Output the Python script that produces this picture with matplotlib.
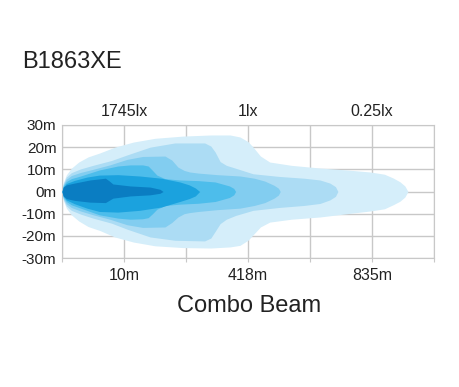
import matplotlib
matplotlib.use('Agg')
import matplotlib.pyplot as plt

plt.rcParams['font.family'] = ['Liberation Sans', 'DejaVu Sans']

# beam layers, outermost (lowest lux) first: x in grid units, half widths in metres
l1_x = [0, 0.02, 0.07, 0.15, 0.27, 0.42, 0.61, 0.85, 1.15, 1.5, 1.95, 2.4, 2.71, 2.87, 3.0, 3.08, 3.2, 3.35, 3.7, 4.16, 4.6, 4.97, 5.2, 5.34, 5.45, 5.53, 5.58]
l1_top = [0, 4, 7.5, 10.5, 13.3, 15.6, 17.4, 20, 22.3, 24, 25, 25.5, 25.5, 24.6, 22.5, 20.1, 16, 13.3, 11.8, 10.6, 9.7, 8.8, 7.8, 6.1, 4.4, 2.5, 0]
l1_bot = [0, -4, -7.5, -10.5, -13.3, -15.8, -17.6, -20.5, -22.8, -24.5, -25.3, -25.5, -25, -24.3, -22, -19.6, -16, -13.8, -12.5, -11.5, -10, -8.8, -7.8, -6, -4.4, -2.5, 0]

l2_x = [0, 0.02, 0.07, 0.15, 0.3, 0.5, 0.8, 1.05, 1.42, 1.82, 2.3, 2.4, 2.47, 2.55, 2.65, 2.8, 3.08, 3.5, 3.9, 4.16, 4.32, 4.41, 4.45]
l2_top = [0, 3.5, 6.5, 8.5, 10.2, 11.8, 14, 16.5, 20, 21.9, 21.9, 20.5, 17.8, 13.5, 11.8, 10.5, 8, 6.8, 6, 5.2, 3.8, 2.2, 0]
l2_bot = [0, -3.5, -6.5, -8.5, -10.2, -12, -14.3, -17, -20.5, -22, -22.3, -21, -18, -14.5, -12.5, -10.8, -8.5, -7.2, -6.3, -5.4, -3.8, -2.2, 0]

l3_x = [0, 0.02, 0.07, 0.15, 0.3, 0.5, 0.77, 1.05, 1.3, 1.66, 1.77, 1.87, 1.97, 2.06, 2.2, 2.5, 2.87, 3.1, 3.27, 3.42, 3.49, 3.52]
l3_top = [0, 3, 5.5, 7.2, 8.6, 10, 12, 14.5, 15.8, 16, 14.2, 11, 9.5, 8.8, 8.3, 7.6, 7, 6, 4.7, 2.8, 1.5, 0]
l3_bot = [0, -3, -5.5, -7.2, -8.8, -10.5, -12.5, -15, -16.2, -16, -14, -11.5, -10, -9.5, -9, -8.2, -7.5, -6.3, -5, -3, -1.6, 0]

l4_x = [0, 0.02, 0.07, 0.15, 0.3, 0.6, 0.9, 1.1, 1.3, 1.39, 1.46, 1.53, 1.66, 1.9, 2.2, 2.47, 2.7, 2.77, 2.8]
l4_top = [0, 2.5, 4.5, 5.8, 7, 9.7, 11.5, 12, 12, 11.5, 9.5, 7.4, 5.8, 5.2, 4.9, 4.3, 2.5, 1.4, 0]
l4_bot = [0, -2.5, -4.5, -6, -7.5, -10.5, -12, -12.5, -12.3, -11.8, -10, -8, -6.3, -5.7, -5.3, -4.5, -2.7, -1.5, 0]

l5_x = [0, 0.02, 0.07, 0.2, 0.4, 0.6, 0.9, 1.25, 1.6, 1.9, 2.05, 2.15, 2.22]
l5_top = [0, 2, 3.6, 5, 6.5, 7.4, 7.6, 7, 6, 4.3, 3, 1.6, 0]
l5_bot = [0, -2, -3.8, -5.5, -7.5, -9, -9.3, -8.5, -7, -4.5, -3.2, -2, 0]

l6_x = [0, 0.02, 0.07, 0.2, 0.45, 0.7, 0.76, 0.82, 1.1, 1.42, 1.58, 1.63]
l6_top = [0, 2, 3, 3.8, 5.2, 6, 4.8, 3.4, 2.5, 2, 1, 0]
l6_bot = [0, -2, -3.2, -4, -4.8, -5, -4, -3, -2, -1.5, -0.8, 0]

layer_colors = ['#d5eefa', '#acdcf4', '#82cdf0', '#4dbdeb', '#1ba2de', '#0a7dc2']

y_ticks = [30, 20, 10, 0, -10, -20, -30]
dist_labels = ['10m', '418m', '835m']
lux_labels = ['1745lx', '1lx', '0.25lx']
label_pos = [1, 3, 5]

fig = plt.figure(figsize=(4.6, 3.87), dpi=100)
ax = fig.add_axes([62/460, 1-258/387, 372/460, 133/387])

layers = [(l1_x, l1_top, l1_bot), (l2_x, l2_top, l2_bot), (l3_x, l3_top, l3_bot),
          (l4_x, l4_top, l4_bot), (l5_x, l5_top, l5_bot), (l6_x, l6_top, l6_bot)]
for i, (xs, top, bot) in enumerate(layers):
    ax.fill_between(xs, bot, top, color=layer_colors[i], lw=0, zorder=2 + i)

grid_c = '#c8c8c8'
ax.set_xlim(0, 6)
ax.set_ylim(-30, 30)
ax.set_xticks(range(7))
ax.set_xticklabels(['', dist_labels[0], '', dist_labels[1], '', dist_labels[2], ''])
ax.set_yticks(y_ticks)
ax.set_yticklabels([f'{v}m' for v in y_ticks])
ax.grid(True, color=grid_c, lw=1)
ax.set_axisbelow(True)
for s in ax.spines.values():
    s.set_color(grid_c)
ax.tick_params(axis='x', length=3, color=grid_c, labelsize=11.5, labelcolor='#222222', pad=4)
ax.tick_params(axis='y', length=0, labelsize=11, labelcolor='#222222', pad=4)

top_ax = ax.secondary_xaxis('top')
top_ax.set_xticks(label_pos)
top_ax.set_xticklabels(lux_labels)
top_ax.tick_params(length=0, labelsize=11.5, labelcolor='#222222', pad=4)
top_ax.spines['top'].set_visible(False)

fig.text(22/460, 1-62/387, 'B1863XE', fontsize=17, va='center', ha='left', color='#222222')
fig.text(249/460, 1-306/387, 'Combo Beam', fontsize=17, va='center', ha='center', color='#222222')

fig.savefig('out.png', dpi=100)
